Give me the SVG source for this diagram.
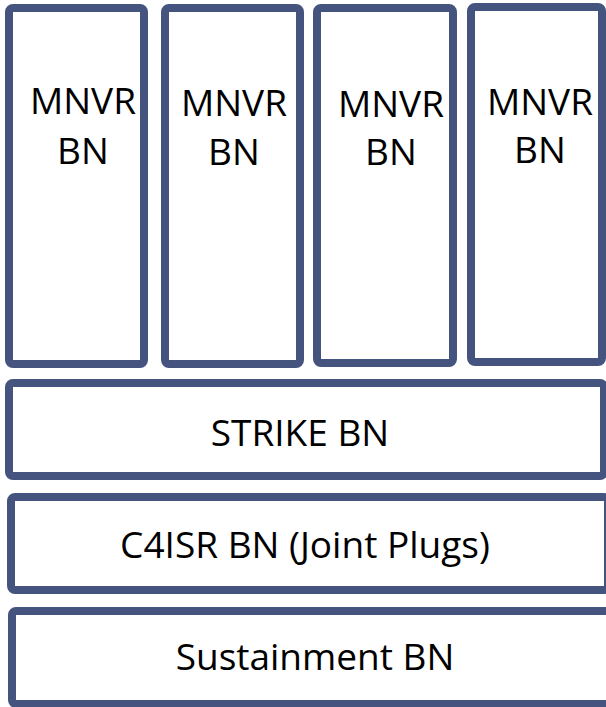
<svg xmlns="http://www.w3.org/2000/svg" width="606" height="707" viewBox="0 0 606 707">
  <style>
    .box { fill: #ffffff; stroke: #44547f; stroke-width: 8; }
    .lbl { font-family: "Open Sans", "Liberation Sans", sans-serif; font-size: 37px; fill: #000000; text-anchor: middle; }
  </style>
  <rect width="606" height="707" fill="#ffffff"/>
  <!-- manoeuvre battalions -->
  <g id="mnvr1">
    <rect class="box" x="9" y="8" width="135" height="356" rx="4"/>
    <text class="lbl" x="83" y="114">MNVR</text>
    <text class="lbl" x="83" y="164">BN</text>
  </g>
  <g id="mnvr2">
    <rect class="box" x="165" y="8" width="135" height="356" rx="4"/>
    <text class="lbl" x="234" y="116">MNVR</text>
    <text class="lbl" x="234" y="165">BN</text>
  </g>
  <g id="mnvr3">
    <rect class="box" x="317" y="8" width="136" height="355" rx="4"/>
    <text class="lbl" x="391" y="117">MNVR</text>
    <text class="lbl" x="391" y="165">BN</text>
  </g>
  <g id="mnvr4">
    <rect class="box" x="471" y="7" width="131" height="355" rx="4"/>
    <text class="lbl" x="540" y="115">MNVR</text>
    <text class="lbl" x="540" y="163">BN</text>
  </g>
  <!-- supporting battalions -->
  <g id="strike">
    <rect class="box" x="9" y="383" width="595" height="93" rx="4"/>
    <text class="lbl" x="300" y="446">STRIKE BN</text>
  </g>
  <g id="c4isr">
    <rect class="box" x="11" y="497" width="597" height="93" rx="4"/>
    <text class="lbl" x="305" y="558">C4ISR BN (Joint Plugs)</text>
  </g>
  <g id="sustainment">
    <rect class="box" x="12" y="611" width="610" height="93" rx="4"/>
    <text class="lbl" x="315" y="670">Sustainment BN</text>
  </g>
  <g id="connectors"/>
</svg>
